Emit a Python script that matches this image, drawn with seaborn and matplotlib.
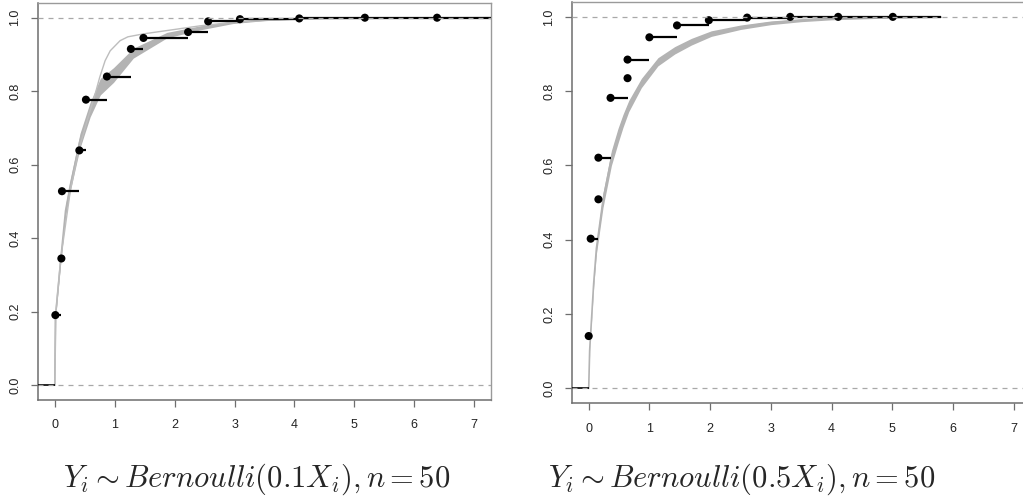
import numpy as np
import matplotlib
matplotlib.use('Agg')
import matplotlib.pyplot as plt
import seaborn as sns

# ---- data ----
# left panel: Bernoulli(0.1 X), estimated step points
left_pts_x = [0.01, 0.11, 0.12, 0.41, 0.52, 0.87, 1.27, 1.48, 2.225, 2.56, 3.09, 4.08, 5.175, 6.38]
left_pts_y = [0.191, 0.345, 0.528, 0.639, 0.777, 0.840, 0.915, 0.945, 0.961, 0.990, 0.996, 0.998, 1.0, 1.0]
left_last_end = 7.4

# left grey band (lower / upper) and thin grey curve
left_band_x = [0.0, 0.0, 0.01, 0.10, 0.18, 0.26, 0.42, 0.59, 0.76, 0.98, 1.31, 1.87, 2.43, 2.97, 3.5, 4.5, 7.4]
left_band_lo = [0.0, 0.0, 0.18, 0.335, 0.46, 0.53, 0.645, 0.73, 0.79, 0.824, 0.89, 0.945, 0.967, 0.984, 0.992, 0.998, 1.0]
left_band_hi = [0.0, 0.0, 0.19, 0.35, 0.49, 0.56, 0.685, 0.77, 0.835, 0.864, 0.917, 0.96, 0.978, 0.99, 0.996, 1.0, 1.0]
left_thin_x = [0.0, 0.0, 0.02, 0.10, 0.26, 0.40, 0.54, 0.675, 0.75, 0.84, 0.925, 1.09, 1.22, 1.48, 2.43, 3.0, 4.0, 7.4]
left_thin_y = [0.0, 0.0, 0.20, 0.345, 0.53, 0.64, 0.72, 0.793, 0.838, 0.883, 0.91, 0.9375, 0.948, 0.956, 0.978, 0.988, 0.997, 1.0]

# right panel: Bernoulli(0.5 X)
right_pts_x = [0.0, 0.033, 0.16, 0.16, 0.36, 0.64, 0.64, 1.0, 1.455, 1.98, 2.61, 3.32, 4.11, 5.01]
right_pts_y = [0.141, 0.403, 0.509, 0.621, 0.782, 0.835, 0.885, 0.945, 0.977, 0.991, 0.998, 1.0, 1.0, 1.0]
right_last_end = 5.81

right_band_x = [0.0, 0.016, 0.082, 0.127, 0.236, 0.374, 0.483, 0.565, 0.66, 0.868, 1.14, 1.417, 1.69, 2.02, 2.5, 3.0, 3.5, 4.0, 5.0, 5.81]
right_band_lo = [0.0, 0.098, 0.273, 0.362, 0.487, 0.60, 0.66, 0.7025, 0.745, 0.8095, 0.868, 0.90, 0.924, 0.9475, 0.966, 0.979, 0.987, 0.992, 0.997, 0.9985]
right_band_hi = [0.0, 0.108, 0.293, 0.392, 0.527, 0.64, 0.70, 0.7375, 0.775, 0.8345, 0.89, 0.92, 0.942, 0.9625, 0.978, 0.989, 0.995, 0.998, 1.0, 1.0]

x_ticks = [0, 1, 2, 3, 4, 5, 6, 7]
y_ticks = [0.0, 0.2, 0.4, 0.6, 0.8, 1.0]
titles = [r'$Y_i \sim Bernoulli(0.1X_i), n = 50$',
          r'$Y_i \sim Bernoulli(0.5X_i), n = 50$']

sns.set_style('white')
plt.rcParams['font.family'] = ['Liberation Sans', 'DejaVu Sans']
plt.rcParams['mathtext.fontset'] = 'cm'

GREY = '#b3b3b3'
FRAME = '#6e6e6e'


def draw_panel(ax, pts_x, pts_y, last_end, band_x, band_lo, band_hi,
               thin_x=None, thin_y=None):
    # grey reference band
    ax.fill_between(band_x, band_lo, band_hi, color=GREY, lw=0, zorder=1)
    mid = (np.array(band_lo) + np.array(band_hi)) / 2
    sns.lineplot(x=band_x, y=mid, ax=ax, color=GREY, lw=1.2, sort=False,
                 estimator=None, zorder=1)
    if thin_x is not None:
        sns.lineplot(x=thin_x, y=thin_y, ax=ax, color='#bdbdbd', lw=1.0,
                     sort=False, estimator=None, zorder=2)

    # step segments + points
    ends = list(pts_x[1:]) + [last_end]
    ax.hlines(pts_y, pts_x, ends, color='black', lw=1.6, zorder=3)
    ax.hlines(0, -0.5, 0, color='black', lw=1.2, zorder=3)
    sns.scatterplot(x=pts_x, y=pts_y, ax=ax, color='black', s=34,
                    edgecolor='none', zorder=4)

    # dashed reference lines at 0 and 1
    for h in (0, 1):
        ax.axhline(h, color='#a8a8a8', lw=0.9, ls=(0, (4, 4)), zorder=5)

    ax.set_xlim(-0.28, 7.28)
    ax.set_ylim(-0.04, 1.04)
    ax.set_xticks(x_ticks)
    ax.set_xticklabels([str(t) for t in x_ticks])
    ax.set_yticks(y_ticks)
    ax.set_yticklabels([f'{t:.1f}' for t in y_ticks], rotation=90, va='center')
    ax.tick_params(bottom=True, left=True, direction='out', length=5,
                   width=0.9, color=FRAME, labelsize=9, labelcolor='#222222')
    ax.tick_params(axis='x', pad=9)
    ax.tick_params(axis='y', pad=7)
    for side in ('left', 'bottom'):
        ax.spines[side].set_color(FRAME)
        ax.spines[side].set_linewidth(1.1)
    for side in ('top', 'right'):
        ax.spines[side].set_color('#9a9a9a')
        ax.spines[side].set_linewidth(1.0)
    ax.set_xlabel('')
    ax.set_ylabel('')


fig = plt.figure(figsize=(10.23, 4.96), dpi=100)

ax1 = fig.add_axes([38 / 1023, 96 / 496, 453 / 1023, 397 / 496])
draw_panel(ax1, left_pts_x, left_pts_y, left_last_end,
           left_band_x, left_band_lo, left_band_hi, left_thin_x, left_thin_y)

# right panel runs past the right edge of the image, as in the reference
ax2 = fig.add_axes([571.7 / 1023, 92.7 / 496, 458.9 / 1023, 401.3 / 496])
draw_panel(ax2, right_pts_x, right_pts_y, right_last_end,
           right_band_x, right_band_lo, right_band_hi)

fig.text(257 / 1023, 1 - 487 / 496, titles[0], ha='center', va='baseline', fontsize=22)
fig.text(742 / 1023, 1 - 487 / 496, titles[1], ha='center', va='baseline', fontsize=22)

fig.savefig('out.png', dpi=100)
